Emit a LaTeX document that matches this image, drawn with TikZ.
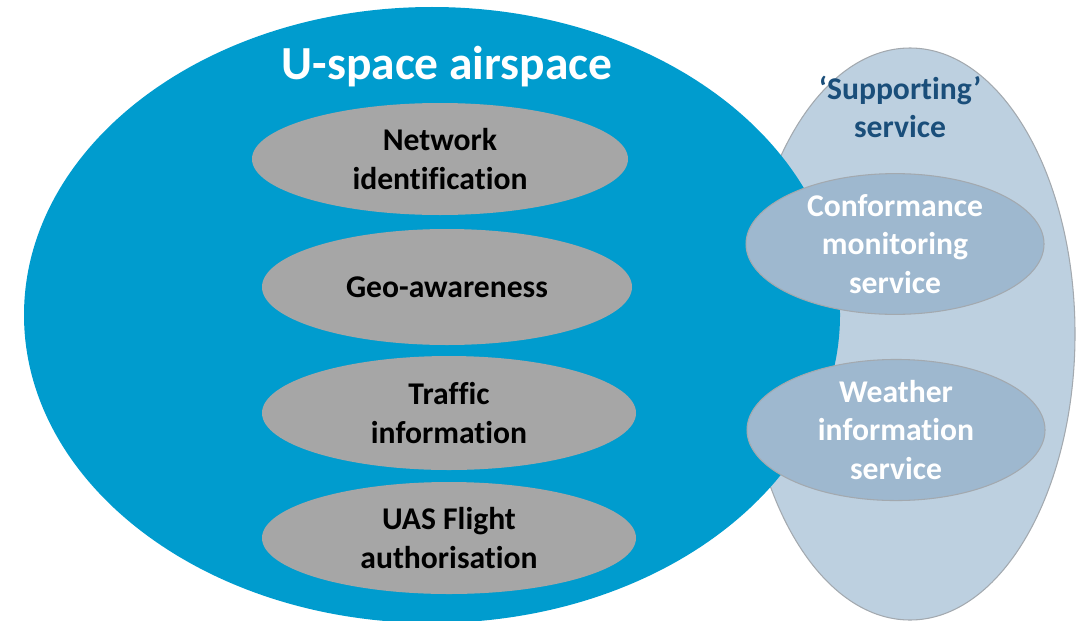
\documentclass[tikz,border=0pt]{standalone}
\usepackage{fontspec}
\setmainfont{Carlito}[Ligatures=NoCommon]
\usepackage{tikz}
\usetikzlibrary{positioning,shapes.geometric}
\usepackage{xcolor}
\definecolor{airblue}{HTML}{009CCE}
\definecolor{supportbg}{HTML}{BDD0E0}
\definecolor{supportline}{HTML}{A3A9AF}
\definecolor{servicegray}{HTML}{A6A6A6}
\definecolor{servicebg}{HTML}{9EB8CF}
\definecolor{textdark}{HTML}{1A4E7A}

\begin{document}
\begin{tikzpicture}[
    bigtext/.style={font=\bfseries\fontsize{27}{32}\selectfont,text=white},
    labeltext/.style={font=\bfseries\fontsize{18}{22}\selectfont,align=center},
    coreservice/.style={ellipse,fill=servicegray,inner sep=0pt,labeltext,text=black},
    supportservice/.style={ellipse,fill=servicebg,draw=supportline,line width=0.6pt,inner sep=0pt,labeltext,text=white}
  ]
    \useasboundingbox (0,0) rectangle (21.72,12.4);
    \clip (0,0) rectangle (21.72,12.4);

    % Supporting services area (behind)
    \node[ellipse,fill=supportbg,draw=supportline,line width=0.6pt,inner sep=0pt,
          minimum width=6.6cm,minimum height=11.44cm] (support) at (18.2,5.72) {};

    % U-space airspace
    \node[ellipse,fill=airblue,inner sep=0pt,
          minimum width=16.32cm,minimum height=12.32cm] (airspace) at (8.64,6.1) {};
    \node[bigtext] (airtitle) at (8.94,11.06) {U-space airspace};

    % Core services
    \node[coreservice,minimum width=7.52cm,minimum height=2.24cm] (netid) at (8.8,9.22) {Network\\identification};
    \node[coreservice,minimum width=7.4cm,minimum height=2.32cm] (geo) at (8.94,6.66) {Geo-awareness};
    \node[coreservice,minimum width=7.48cm,minimum height=2.28cm] (traffic) at (8.98,4.14) {Traffic\\information};
    \node[coreservice,minimum width=7.48cm,minimum height=2.24cm] (flightauth) at (8.98,1.64) {UAS Flight\\authorisation};

    % Supporting services
    \node[labeltext,text=textdark] (supporttitle) at (18.0,10.26) {`Supporting'\\service};
    \node[supportservice,minimum width=5.96cm,minimum height=2.32cm] (conformance) at (17.9,7.52) {Conformance\\monitoring\\service};
    \node[supportservice,minimum width=5.96cm,minimum height=2.28cm] (weather) at (17.92,3.8) {Weather\\information\\service};
\end{tikzpicture}
\end{document}
